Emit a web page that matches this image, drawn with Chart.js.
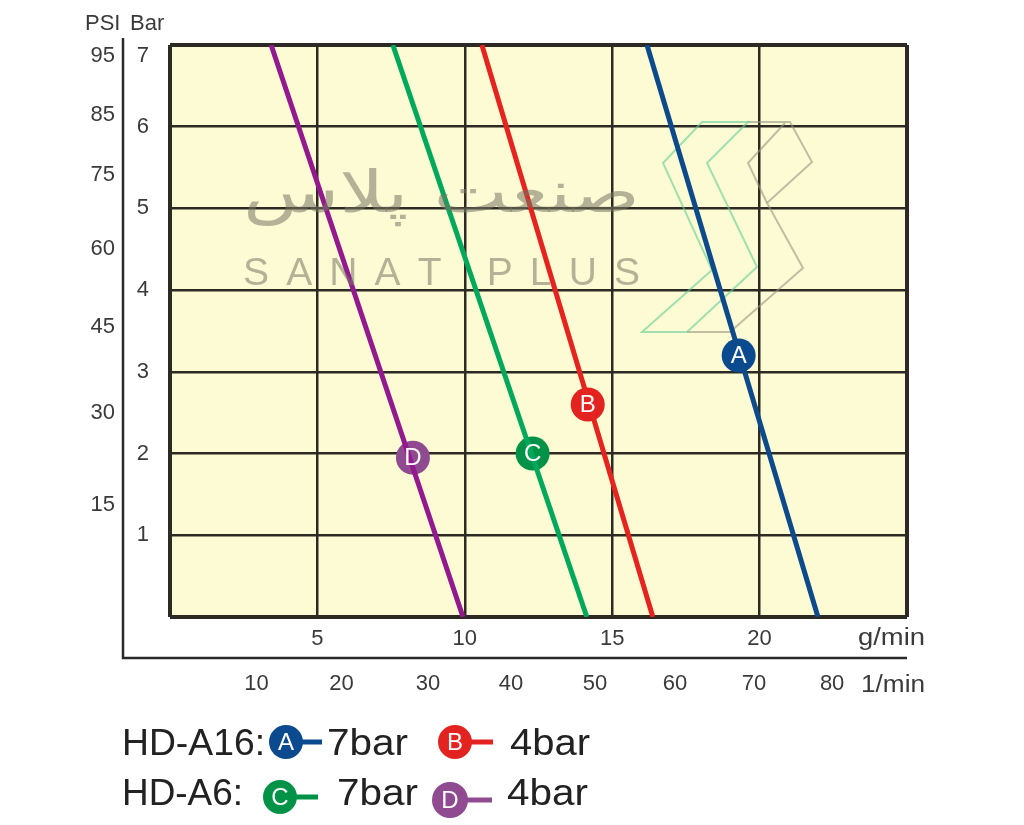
<!DOCTYPE html>
<html lang="en">
<head>
<meta charset="UTF-8">
<title>HD-A16 / HD-A6 flow chart</title>
<script src="https://cdn.jsdelivr.net/npm/chart.js"></script>
<style>
  body { margin: 0; background: #fff; }
  canvas { display: block; }
</style>
</head>
<body>
<canvas id="flowChart" width="1024" height="825"></canvas>
<script>
// pressure (bar) at the two ends of every curve
const pressureBar = [7, 0];
// flow (g/min) at 7 bar and at 0 bar
const flowA = [16.18, 21.98];
const flowB = [10.58, 16.38];
const flowC = [7.56, 14.14];
const flowD = [3.43, 9.94];

// letter badges on the curves: [g/min, bar]
const badgeA = [19.29, 3.2];
const badgeB = [14.17, 2.6];
const badgeC = [12.3, 2.0];
const badgeD = [8.24, 1.95];

// tick labels (positions in chart units, as printed on the sheet)
const barTicks = [1, 2, 3, 4, 5, 6, 6.87];
const barLabels = ['1', '2', '3', '4', '5', '6', '7'];
const psiTicks = [1.37, 2.5, 3.55, 4.5, 5.41, 6.14, 6.87];
const psiLabels = ['15', '30', '45', '60', '75', '85', '95'];
const gpmLabels = [5, 10, 15, 20];
const lpmTicks = [2.93, 5.82, 8.75, 11.57, 14.42, 17.13, 19.81, 22.46];
const lpmLabels = ['10', '20', '30', '40', '50', '60', '70', '80'];

const lineColors = { A: '#0c4a8c', B: '#e5231f', C: '#00a85b', D: '#93198f' };
const badgeColors = { A: '#0b4a8e', B: '#e2231f', C: '#009246', D: '#8f4a90' };

const FONT = '"Liberation Sans", Arial, sans-serif';
const tickFont = { family: FONT, size: 22 };
const tickColor = '#3a3a3a';
const gridColor = '#2c2a22';

function curve(flow) {
  return flow.map((x, i) => ({ x: x, y: pressureBar[i] }));
}

function fitText(ctx, text, x, y, width) {
  const w = ctx.measureText(text).width;
  ctx.save();
  ctx.translate(x, y);
  ctx.scale(width / w, 1);
  ctx.fillText(text, 0, 0);
  ctx.restore();
}

function drawBadge(ctx, x, y, r, color, letter) {
  ctx.beginPath();
  ctx.arc(x, y, r, 0, Math.PI * 2);
  ctx.fillStyle = color;
  ctx.fill();
  ctx.fillStyle = '#fff';
  ctx.font = '24px ' + FONT;
  ctx.textAlign = 'center';
  ctx.textBaseline = 'middle';
  ctx.fillText(letter, x, y + 1);
}

// yellow plot background
const plotBackground = {
  id: 'plotBackground',
  beforeDraw(chart) {
    const { ctx, chartArea: a } = chart;
    ctx.save();
    ctx.fillStyle = '#fdfbd3';
    ctx.fillRect(a.left, a.top, a.right - a.left, a.bottom - a.top);
    ctx.restore();
  }
};

// faint logo under the curves
const logoMark = {
  id: 'logoMark',
  beforeDatasetsDraw(chart) {
    const ctx = chart.ctx;
    const poly = (pts, close) => {
      ctx.beginPath();
      pts.forEach((p, i) => i ? ctx.lineTo(p[0], p[1]) : ctx.moveTo(p[0], p[1]));
      if (close) ctx.closePath();
      ctx.stroke();
    };
    ctx.save();
    ctx.lineWidth = 2;
    ctx.strokeStyle = 'rgba(150,150,128,0.6)';
    poly([[747, 122], [790, 122], [812, 162], [767, 203], [803, 268], [730, 332], [687, 332]], false);
    poly([[785, 123], [748, 163], [767, 203]], false);
    ctx.strokeStyle = 'rgba(100,205,150,0.6)';
    poly([[702, 122], [748, 122], [707, 163], [757, 267], [687, 332], [642, 332], [712, 270], [663, 163]], true);
    ctx.restore();
  }
};

// watermark text over the curves, letters on the badges, axis frame, titles, legend
const decorations = {
  id: 'decorations',
  afterDatasetsDraw(chart) {
    const ctx = chart.ctx;
    ctx.save();
    ctx.fillStyle = 'rgba(120,118,100,0.55)';
    ctx.textBaseline = 'alphabetic';
    ctx.textAlign = 'left';
    ctx.font = '58px "DejaVu Sans"';
    fitText(ctx, 'صنعت پلاس', 243, 212, 397);
    ctx.font = '39px ' + FONT;
    const word = 'SANAT PLUS';
    const widths = [...word].map(c => ctx.measureText(c).width);
    const gap = (397 - widths.reduce((s, w) => s + w, 0)) / (word.length - 1);
    let cx = 243;
    [...word].forEach((c, i) => { ctx.fillText(c, cx, 285); cx += widths[i] + gap; });
    ctx.restore();

    const meta = chart.getDatasetMeta(4);
    const letters = ['A', 'B', 'C', 'D'];
    ctx.save();
    meta.data.forEach((pt, i) => {
      ctx.fillStyle = '#fff';
      ctx.font = '24px ' + FONT;
      ctx.textAlign = 'center';
      ctx.textBaseline = 'middle';
      ctx.fillText(letters[i], pt.x, pt.y + 1);
    });
    ctx.restore();
  },
  afterDraw(chart) {
    const ctx = chart.ctx;
    const a = chart.chartArea;
    const outer = chart.scales.yPsi.right;
    const base = chart.scales.x.bottom;
    ctx.save();
    ctx.strokeStyle = '#2a2a2a';
    ctx.lineWidth = 2.5;
    ctx.beginPath();
    ctx.moveTo(outer, a.top - 7);
    ctx.lineTo(outer, base);
    ctx.lineTo(a.right, base);
    ctx.stroke();

    ctx.fillStyle = tickColor;
    ctx.textAlign = 'left';
    ctx.textBaseline = 'alphabetic';
    ctx.font = '22px ' + FONT;
    ctx.fillText('PSI', 85, 30);
    ctx.fillText('Bar', 130, 30);
    ctx.font = '23px ' + FONT;
    fitText(ctx, 'g/min', 858, 645, 67);
    fitText(ctx, '1/min', 861, 692, 64);

    // legend
    ctx.fillStyle = '#222';
    ctx.font = '36px ' + FONT;
    fitText(ctx, 'HD-A16:', 122, 755, 143);
    fitText(ctx, '7bar', 327, 755, 81);
    fitText(ctx, '4bar', 510, 755, 80);
    fitText(ctx, 'HD-A6:', 122, 805, 121);
    fitText(ctx, '7bar', 337, 805, 81);
    fitText(ctx, '4bar', 507, 805, 81);
    const stub = (x1, x2, y, c) => {
      ctx.strokeStyle = c; ctx.lineWidth = 5;
      ctx.beginPath(); ctx.moveTo(x1, y); ctx.lineTo(x2, y); ctx.stroke();
    };
    stub(295, 322, 742, badgeColors.A);
    stub(465, 493, 742, badgeColors.B);
    stub(290, 318, 797, badgeColors.C);
    stub(460, 492, 800, badgeColors.D);
    drawBadge(ctx, 286, 742, 17, badgeColors.A, 'A');
    drawBadge(ctx, 455, 742, 17, badgeColors.B, 'B');
    drawBadge(ctx, 280, 797, 17, badgeColors.C, 'C');
    drawBadge(ctx, 450, 800, 18, badgeColors.D, 'D');
    ctx.restore();
  }
};

const edgeWidth = (ctx, max) => (ctx.tick.value === 0 || ctx.tick.value === max) ? 4 : 2.5;

new Chart(document.getElementById('flowChart'), {
  type: 'scatter',
  data: {
    datasets: [
      { label: 'A', data: curve(flowA), borderColor: lineColors.A, borderWidth: 5, showLine: true, pointRadius: 0 },
      { label: 'B', data: curve(flowB), borderColor: lineColors.B, borderWidth: 5, showLine: true, pointRadius: 0 },
      { label: 'C', data: curve(flowC), borderColor: lineColors.C, borderWidth: 5, showLine: true, pointRadius: 0 },
      { label: 'D', data: curve(flowD), borderColor: lineColors.D, borderWidth: 5, showLine: true, pointRadius: 0 },
      {
        label: 'badges',
        data: [badgeA, badgeB, badgeC, badgeD].map(p => ({ x: p[0], y: p[1] })),
        pointRadius: 17,
        pointHoverRadius: 17,
        borderWidth: 0,
        backgroundColor: [badgeColors.A, badgeColors.B, badgeColors.C, badgeColors.D]
      }
    ]
  },
  options: {
    responsive: false,
    animation: false,
    layout: { padding: { top: 45, right: 117, bottom: 117, left: 0 } },
    plugins: { legend: { display: false }, tooltip: { enabled: false } },
    scales: {
      x: {
        type: 'linear', min: 0, max: 25, position: 'bottom', weight: 0,
        ticks: {
          stepSize: 5, autoSkip: false, maxRotation: 0, padding: 9,
          font: tickFont, color: tickColor,
          callback: v => gpmLabels.includes(v) ? String(v) : ''
        },
        grid: { color: gridColor, lineWidth: c => edgeWidth(c, 25), drawTicks: false },
        border: { display: false },
        afterFit: s => { s.height = 41; }
      },
      x2: {
        type: 'linear', min: 0, max: 25, position: 'bottom', weight: 1,
        afterBuildTicks: s => { s.ticks = lpmTicks.map(v => ({ value: v })); },
        ticks: {
          autoSkip: false, maxRotation: 0, padding: 13,
          font: tickFont, color: tickColor,
          callback: (v, i) => lpmLabels[i]
        },
        grid: { display: false, drawTicks: false },
        border: { display: false },
        afterFit: s => { s.height = 50; }
      },
      y: {
        type: 'linear', min: 0, max: 7, position: 'left', weight: 0,
        ticks: { stepSize: 1, display: false },
        grid: { color: gridColor, lineWidth: c => edgeWidth(c, 7), drawTicks: false },
        border: { display: false },
        afterFit: s => { s.width = 0; }
      },
      yBar: {
        type: 'linear', min: 0, max: 7, position: 'left', weight: 1,
        afterBuildTicks: s => { s.ticks = barTicks.map(v => ({ value: v })); },
        ticks: {
          autoSkip: false, padding: 21, font: tickFont, color: tickColor,
          callback: (v, i) => barLabels[i]
        },
        grid: { display: false, drawTicks: false },
        border: { display: false },
        afterFit: s => { s.width = 47; }
      },
      yPsi: {
        type: 'linear', min: 0, max: 7, position: 'left', weight: 2,
        afterBuildTicks: s => { s.ticks = psiTicks.map(v => ({ value: v })); },
        ticks: {
          autoSkip: false, padding: 8, font: tickFont, color: tickColor,
          callback: (v, i) => psiLabels[i]
        },
        grid: { display: false, drawTicks: false },
        border: { display: false },
        afterFit: s => { s.width = 123; }
      }
    }
  },
  plugins: [plotBackground, logoMark, decorations]
});
</script>
</body>
</html>
